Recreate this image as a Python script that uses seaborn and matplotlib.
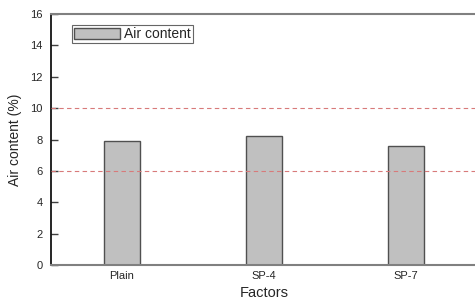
import matplotlib
matplotlib.use("Agg")
import matplotlib.pyplot as plt
import seaborn as sns
import pandas as pd

categories = ["Plain", "SP-4", "SP-7"]
air_content = [7.9, 8.2, 7.6]
limit_lines = [6, 10]
y_ticks = [0, 2, 4, 6, 8, 10, 12, 14, 16]

sns.set_style("white")
plt.rcParams['font.family'] = ['Liberation Sans', 'DejaVu Sans']

df = pd.DataFrame({"Factors": categories, "Air content": air_content})

fig = plt.figure(figsize=(4.75, 3.0), dpi=100)
ax = fig.add_axes([51/475, 1 - 265/300, 426/475, 251/300])

sns.barplot(data=df, x="Factors", y="Air content", ax=ax, color="#c0c0c0",
            width=0.25, edgecolor="#505050", linewidth=1.0, saturation=1,
            label="Air content")

for v in limit_lines:
    ax.axhline(v, color="#d87a7a", linestyle=(0, (4, 3)), linewidth=0.8, zorder=5)

ax.set_xlim(-0.5, 2.5)
ax.set_ylim(0, 16)
ax.set_yticks(y_ticks)
ax.set_yticklabels([str(t) for t in y_ticks], fontsize=8)
ax.tick_params(axis='y', direction='in', length=5, width=1, color='#404040', left=True, pad=6)
ax.tick_params(axis='x', length=0, labelsize=8, pad=4)

ax.set_xlabel("Factors", fontsize=10.5, labelpad=4)
ax.set_ylabel("Air content (%)", fontsize=10, labelpad=6)

ax.spines['left'].set_color('black')
ax.spines['left'].set_linewidth(1.2)
ax.spines['bottom'].set_color('#808080')
ax.spines['bottom'].set_linewidth(1.5)
ax.spines['top'].set_color('#808080')
ax.spines['top'].set_linewidth(1.5)
ax.spines['right'].set_visible(False)

leg = ax.legend(loc='upper left', bbox_to_anchor=(0.049, 0.955), fontsize=10,
                frameon=True, fancybox=False, edgecolor='#404040',
                handlelength=3.3, handleheight=0.9, handletextpad=0.3,
                borderpad=0.15, borderaxespad=0)
leg.get_frame().set_linewidth(0.8)

fig.savefig("out.png", dpi=100)
